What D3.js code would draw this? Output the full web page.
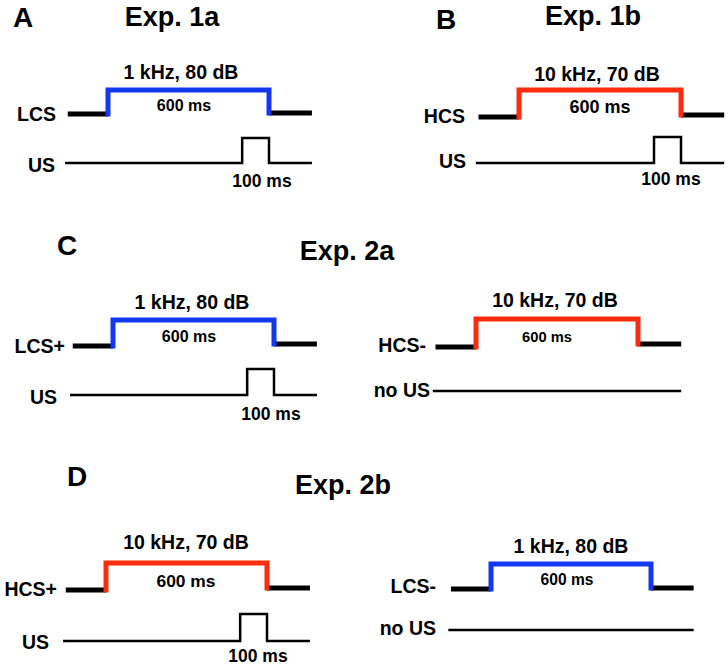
<!DOCTYPE html>
<html>
<head>
<meta charset="utf-8">
<script src="https://cdn.jsdelivr.net/npm/d3@7/dist/d3.min.js"></script>
<style>
  html, body { margin: 0; padding: 0; background: #fff; }
  svg { display: block; }
  text { font-family: "Liberation Sans", Arial, Helvetica, sans-serif; font-weight: bold; fill: #000; }
</style>
</head>
<body>
<div id="chart"></div>
<script>
// ---- data ----
const panelLetters = ["A", "B", "C", "D"];
const expTitles = ["Exp. 1a", "Exp. 1b", "Exp. 2a", "Exp. 2b"];
const csLabels = ["LCS", "HCS", "LCS+", "HCS-", "HCS+", "LCS-"];
const toneLabels = ["1 kHz, 80 dB", "10 kHz, 70 dB", "1 kHz, 80 dB", "10 kHz, 70 dB", "10 kHz, 70 dB", "1 kHz, 80 dB"];
const toneType = ["low", "high", "low", "high", "high", "low"];
const usLabels = ["US", "US", "US", "no US", "US", "no US"];
const usPresent = [true, true, true, false, true, false];
const csDurationMs = 600;
const usDurationMs = 100;
const traceWindowMs = [-150, 760];   // baseline before CS onset / after CS offset
const usTraceStartMs = -160;
const csDurationLabel = "600 ms";
const usDurationLabel = "100 ms";

// ---- layout (pixel positions only) ----
const W = 728, H = 667;
const letterPos = [[13, 27], [436, 29], [57, 255], [67, 486]];
const titlePos = [[172, 26], [593, 25], [347, 260], [343, 494]];
// on/off: pixel of CS onset / offset; yPre/yPost: low level; yHigh: tone level; yUS: US baseline; usTop: pulse top
const diag = [
  {on:108, off:269, yPre:114, yPost:113, yHigh:90,  yUS:163, usTop:138, csLab:[56,121],  usLab:[55,172],  tone:[181,79],  dur:[184,111,16],  usDur:[262,187]},
  {on:519, off:681, yPre:117, yPost:115, yHigh:90,  yUS:163, usTop:137, csLab:[465,123], usLab:[466,168], tone:[597,81],  dur:[600,113,18],  usDur:[671,185]},
  {on:113, off:274, yPre:346, yPost:344, yHigh:320, yUS:395, usTop:369, csLab:[65,353],  usLab:[57,404],  tone:[192,309], dur:[189,342,16],  usDur:[271,420]},
  {on:476, off:638, yPre:347, yPost:344, yHigh:319, yUS:391, usTop:0,   csLab:[426,352], usLab:[430,397], tone:[555,307], dur:[547,342,14.7],usDur:null},
  {on:106, off:267, yPre:590, yPost:588, yHigh:563, yUS:641, usTop:614, csLab:[57,596],  usLab:[49,649],  tone:[186,549], dur:[186,587,17.4],usDur:[258,662]},
  {on:491, off:651, yPre:589, yPost:588, yHigh:564, yUS:630, usTop:0,   csLab:[436,593], usLab:[436,635], tone:[571,553], dur:[567,585,15.6],usDur:null}
];
const toneColor = {low: "#1438f2", high: "#fb2d0e"};

const svg = d3.select("#chart").append("svg")
  .attr("width", W).attr("height", H)
  .attr("viewBox", `0 0 ${W} ${H}`);
svg.append("rect").attr("width", W).attr("height", H).attr("fill", "#fff");

// panel letters and titles
svg.selectAll("text.letter").data(panelLetters).join("text")
  .attr("class", "letter")
  .attr("x", (d, i) => letterPos[i][0]).attr("y", (d, i) => letterPos[i][1])
  .attr("font-size", 28).text(d => d);
svg.selectAll("text.title").data(expTitles).join("text")
  .attr("class", "title")
  .attr("x", (d, i) => titlePos[i][0]).attr("y", (d, i) => titlePos[i][1])
  .attr("text-anchor", "middle").attr("font-size", 27).text(d => d);

const line = d3.line();

csLabels.forEach((cs, i) => {
  const L = diag[i];
  const x = d3.scaleLinear().domain([0, csDurationMs]).range([L.on, L.off]);
  const g = svg.append("g");

  // black baseline segments of CS trace
  g.append("path").attr("d", line([[x(traceWindowMs[0]), L.yPre], [x(0), L.yPre]]))
    .attr("stroke", "#000").attr("stroke-width", 5).attr("fill", "none");
  g.append("path").attr("d", line([[x(csDurationMs), L.yPost], [x(traceWindowMs[1]), L.yPost]]))
    .attr("stroke", "#000").attr("stroke-width", 5).attr("fill", "none");
  // coloured tone
  g.append("path").attr("d", line([[x(0), L.yPre + 2.5], [x(0), L.yHigh], [x(csDurationMs), L.yHigh], [x(csDurationMs), L.yPost + 2.5]]))
    .attr("stroke", toneColor[toneType[i]]).attr("stroke-width", 5)
    .attr("stroke-linejoin", "miter").attr("fill", "none");

  // US trace
  let usPts;
  if (usPresent[i]) {
    const usOn = csDurationMs - usDurationMs;
    usPts = [[x(usTraceStartMs), L.yUS], [x(usOn), L.yUS], [x(usOn), L.usTop],
             [x(csDurationMs), L.usTop], [x(csDurationMs), L.yUS], [x(traceWindowMs[1]), L.yUS]];
  } else {
    usPts = [[x(usTraceStartMs), L.yUS], [x(traceWindowMs[1]), L.yUS]];
  }
  g.append("path").attr("d", line(usPts))
    .attr("stroke", "#000").attr("stroke-width", 2.5).attr("fill", "none")
    .attr("stroke-linejoin", "miter");

  // labels
  g.append("text").attr("x", L.csLab[0]).attr("y", L.csLab[1])
    .attr("text-anchor", "end").attr("font-size", 19.5).text(cs);
  g.append("text").attr("x", L.usLab[0]).attr("y", L.usLab[1])
    .attr("text-anchor", "end").attr("font-size", 19.5).text(usLabels[i]);
  g.append("text").attr("x", L.tone[0]).attr("y", L.tone[1])
    .attr("text-anchor", "middle").attr("font-size", 19.5).text(toneLabels[i]);
  g.append("text").attr("x", L.dur[0]).attr("y", L.dur[1])
    .attr("text-anchor", "middle").attr("font-size", L.dur[2]).text(csDurationLabel);
  if (usPresent[i] && L.usDur) {
    g.append("text").attr("x", L.usDur[0]).attr("y", L.usDur[1])
      .attr("text-anchor", "middle").attr("font-size", 17.5).text(usDurationLabel);
  }
});
</script>
</body>
</html>
